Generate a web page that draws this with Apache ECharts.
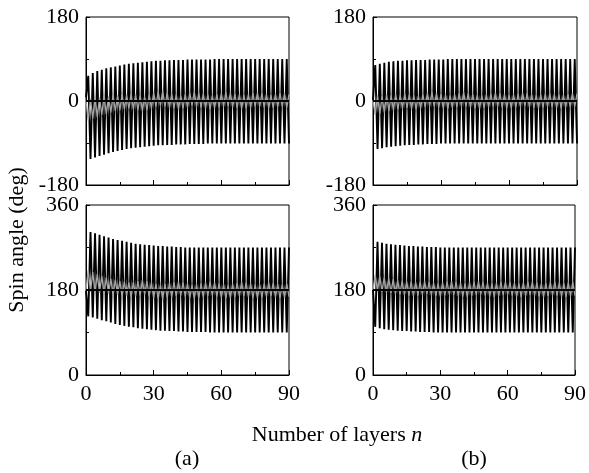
<!DOCTYPE html>
<html>
<head>
<meta charset="utf-8">
<script src="https://cdn.jsdelivr.net/npm/echarts@6/dist/echarts.min.js"></script>
<style>
html, body { margin: 0; padding: 0; background: #fff; }
#chart { width: 589px; height: 473px; }
</style>
</head>
<body>
<div id="chart"></div>
<script>
// Layer index n = 0 … 90
const layers = Array.from({ length: 91 }, (_, i) => i);

// (a) upper panel: spin angle of sublattice 1 (black) and 2 (gray), deg
const angleA1 = [
  8, 54, -124, 60, -121, 64, -118, 67, -115, 70, -112, 72, -109, 74, -107, 76, -105, 78, -103, 80,
  -101, 81, -100, 82, -99, 83, -98, 84, -97, 85, -96, 86, -95, 86, -95, 87, -94, 87, -94, 88,
  -93, 88, -93, 88, -93, 89, -92, 89, -92, 89, -92, 89, -92, 89, -91, 89, -91, 90, -91, 90,
  -91, 90, -91, 90, -91, 90, -91, 90, -91, 90, -91, 90, -91, 90, -91, 90, -91, 90, -91, 90,
  -91, 90, -91, 90, -91, 90, -91, 90, -91, 90, -91
];
const angleA2 = [
  0, -42, 6, -38, 10, -35, 8, -30, 12, -28, 10, -25, 14, -22, 12, -20, 15, -18, 13, -16,
  16, -18, 14, -20, 12, -22, 10, -20, 14, -16, 18, -12, 20, -10, 22, -12, 18, -14, 16, -16,
  14, -18, 12, -16, 15, -14, 18, -10, 20, -12, 18, -14, 16, -16, 14, -18, 12, -16, 15, -14,
  17, -12, 19, -11, 18, -13, 16, -15, 14, -17, 13, -16, 15, -14, 17, -12, 18, -12, 17, -14,
  15, -16, 13, -15, 15, -13, 17, -12, 16, -14, 14
];

// (a) lower panel
const angleA3 = [
  178, 124, 303, 122, 300, 119, 297, 116, 294, 114, 291, 111, 288, 108, 286, 106, 284, 104, 282, 102,
  280, 101, 278, 99, 277, 98, 276, 97, 275, 96, 274, 95, 273, 94, 273, 94, 272, 93, 272, 93,
  271, 92, 271, 92, 270, 91, 270, 91, 270, 91, 270, 91, 270, 91, 270, 90, 270, 90, 270, 90,
  270, 90, 270, 90, 270, 90, 270, 90, 270, 90, 270, 90, 270, 90, 270, 90, 270, 90, 270, 90,
  270, 90, 270, 90, 270, 90, 270, 90, 270, 90, 270
];
const angleA4 = [
  180, 222, 176, 218, 172, 214, 174, 210, 170, 207, 172, 204, 168, 202, 170, 199, 166, 198, 168, 196,
  165, 197, 167, 199, 168, 201, 170, 199, 166, 196, 163, 193, 161, 191, 160, 193, 163, 195, 165, 197,
  167, 198, 168, 196, 166, 194, 163, 191, 161, 192, 162, 194, 165, 196, 167, 198, 168, 196, 166, 194,
  164, 192, 162, 191, 163, 193, 165, 195, 167, 197, 167, 196, 165, 194, 163, 192, 162, 192, 164, 194,
  166, 196, 167, 195, 165, 193, 163, 192, 164, 194, 166
];

// (b) upper panel
const angleB1 = [
  2, 77, -103, 80, -101, 82, -99, 84, -98, 85, -97, 86, -96, 86, -95, 87, -94, 87, -94, 88,
  -93, 88, -93, 88, -92, 89, -92, 89, -92, 89, -91, 89, -91, 90, -91, 90, -91, 90, -91, 90,
  -91, 90, -91, 90, -91, 90, -91, 90, -91, 90, -91, 90, -91, 90, -91, 90, -91, 90, -91, 90,
  -91, 90, -91, 90, -91, 90, -91, 90, -91, 90, -91, 90, -91, 90, -91, 90, -91, 90, -91, 90,
  -91, 90, -91, 90, -91, 90, -91, 90, -91, 90, -91
];
const angleB2 = [
  0, -30, 12, -28, 10, -25, 14, -22, 12, -20, 15, -18, 13, -16, 16, -15, 14, -17, 12, -18,
  11, -16, 14, -13, 17, -11, 19, -12, 17, -14, 15, -16, 13, -17, 12, -15, 15, -13, 17, -11,
  19, -12, 17, -14, 15, -16, 13, -17, 12, -15, 14, -13, 16, -12, 18, -12, 17, -14, 15, -16,
  13, -16, 14, -14, 16, -12, 18, -11, 17, -13, 15, -15, 13, -16, 14, -14, 16, -12, 17, -13,
  15, -15, 14, -16, 13, -14, 15, -13, 17, -12, 16
];

// (b) lower panel
const angleB3 = [
  180, 102, 282, 99, 280, 97, 278, 96, 277, 95, 276, 94, 275, 93, 274, 93, 273, 92, 273, 92,
  272, 91, 272, 91, 271, 91, 271, 90, 271, 90, 270, 90, 270, 90, 270, 90, 270, 90, 270, 90,
  270, 90, 270, 90, 270, 90, 270, 90, 270, 90, 270, 90, 270, 90, 270, 90, 270, 90, 270, 90,
  270, 90, 270, 90, 270, 90, 270, 90, 270, 90, 270, 90, 270, 90, 270, 90, 270, 90, 270, 90,
  270, 90, 270, 90, 270, 90, 270, 90, 270, 90, 270
];
const angleB4 = [
  180, 212, 178, 210, 176, 207, 175, 205, 174, 203, 172, 201, 170, 200, 169, 199, 168, 198, 167, 197,
  168, 198, 170, 199, 171, 197, 169, 195, 167, 194, 166, 196, 168, 198, 170, 199, 169, 197, 167, 195,
  166, 194, 165, 196, 167, 198, 169, 199, 170, 197, 168, 195, 166, 194, 165, 195, 167, 197, 169, 198,
  170, 197, 168, 195, 166, 194, 165, 196, 167, 198, 169, 198, 168, 196, 166, 194, 165, 195, 167, 197,
  169, 198, 168, 196, 166, 195, 165, 196, 167, 197, 168
];

// Axis ranges and tick labels
const xTicks = [0, 30, 60, 90];
const yRangeTop = [-180, 180];
const yRangeBottom = [0, 360];
const referenceAngles = [0, 180];
const panelLabels = ['(a)', '(b)'];

const SERIF = '"Liberation Serif", "DejaVu Serif", serif';

const panels = [
  { black: angleA1, gray: angleA2, range: yRangeTop, ref: referenceAngles[0], labels: false },
  { black: angleA3, gray: angleA4, range: yRangeBottom, ref: referenceAngles[1], labels: true },
  { black: angleB1, gray: angleB2, range: yRangeTop, ref: referenceAngles[0], labels: false },
  { black: angleB3, gray: angleB4, range: yRangeBottom, ref: referenceAngles[1], labels: true }
];

const grids = [
  { left: 86, top: 17, width: 203, height: 168 },
  { left: 86, top: 205, width: 203, height: 170 },
  { left: 373, top: 17, width: 204, height: 168 },
  { left: 373, top: 205, width: 204, height: 170 }
].map(g => Object.assign({ show: true, borderColor: '#000', borderWidth: 1, backgroundColor: 'transparent' }, g));

const axisText = { fontFamily: SERIF, fontSize: 22, color: '#000' };

const xAxes = panels.map((p, i) => ({
  type: 'value', gridIndex: i, min: xTicks[0], max: xTicks[xTicks.length - 1], interval: xTicks[1] - xTicks[0],
  axisLine: { onZero: false, lineStyle: { color: '#000', width: 1 } },
  axisTick: { inside: true, length: 5, lineStyle: { color: '#000' } },
  minorTick: { show: true, splitNumber: 2, length: 3, lineStyle: { color: '#000' } },
  splitLine: { show: false },
  axisLabel: Object.assign({ show: p.labels, margin: 8 }, axisText)
}));

const yAxes = panels.map((p, i) => ({
  type: 'value', gridIndex: i, min: p.range[0], max: p.range[1], interval: 180,
  axisLine: { lineStyle: { color: '#000', width: 1 } },
  axisTick: { inside: true, length: 4, lineStyle: { color: '#000' } },
  minorTick: { show: true, splitNumber: 2, length: 3, lineStyle: { color: '#000' } },
  splitLine: { show: false },
  axisLabel: Object.assign({ margin: 7, showMinLabel: true, showMaxLabel: true }, axisText)
}));

const series = [];
panels.forEach((p, i) => {
  // sublattice 1: black zigzag
  series.push({
    type: 'line', xAxisIndex: i, yAxisIndex: i, z: 2,
    data: layers.map((n, k) => [n, p.black[k]]),
    showSymbol: false, symbol: 'none', animation: false,
    lineStyle: { color: '#000', width: 1.9 }
  });
  // sublattice 2: gray zigzag around the mean direction
  series.push({
    type: 'line', xAxisIndex: i, yAxisIndex: i, z: 3,
    data: layers.map((n, k) => [n, p.gray[k]]),
    showSymbol: false, symbol: 'none', animation: false,
    lineStyle: { color: '#a4a4a4', width: 1.3 }
  });
  // mean spin direction
  series.push({
    type: 'line', xAxisIndex: i, yAxisIndex: i, z: 4,
    data: [[xTicks[0], p.ref], [xTicks[xTicks.length - 1], p.ref]],
    showSymbol: false, symbol: 'none', animation: false,
    lineStyle: { color: '#000', width: 2.2 }
  });
});

const chart = echarts.init(document.getElementById('chart'), null, { renderer: 'canvas' });
chart.setOption({
  backgroundColor: '#fff',
  animation: false,
  grid: grids,
  xAxis: xAxes,
  yAxis: yAxes,
  series: series,
  graphic: [
    {
      type: 'text', x: 17, y: 240, rotation: Math.PI / 2,
      style: { text: 'Spin angle (deg)', fontFamily: SERIF, fontSize: 22, fill: '#000', align: 'center', verticalAlign: 'middle' }
    },
    {
      type: 'text', x: 337, y: 435,
      style: {
        text: 'Number of layers {it|n}', fontFamily: SERIF, fontSize: 22, fill: '#000',
        align: 'center', verticalAlign: 'middle',
        rich: { it: { fontFamily: SERIF, fontSize: 22, fontStyle: 'italic' } }
      }
    },
    {
      type: 'text', x: 187, y: 459,
      style: { text: panelLabels[0], fontFamily: SERIF, fontSize: 22, fill: '#000', align: 'center', verticalAlign: 'middle' }
    },
    {
      type: 'text', x: 474, y: 459,
      style: { text: panelLabels[1], fontFamily: SERIF, fontSize: 22, fill: '#000', align: 'center', verticalAlign: 'middle' }
    }
  ]
});
</script>
</body>
</html>
